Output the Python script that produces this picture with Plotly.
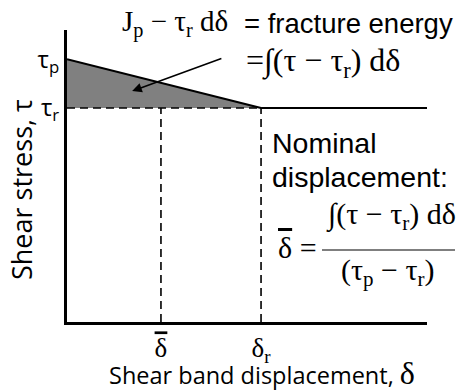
import plotly.graph_objects as go

# Key values (arbitrary units on a 0-10 plot frame)
tau_p = 9.0
tau_r = 7.33
delta_r = 5.39
delta_bar = 2.61
x_end = 10.0

y_tick_vals = [tau_p, tau_r]
y_tick_text = ["τ<sub>p</sub>", "τ<sub>r</sub>"]
x_tick_vals = [delta_bar, delta_r]
x_tick_text = ["<span style='text-decoration:overline'>δ</span>", "δ<sub>r</sub>"]

SERIF = "Liberation Serif"
SANS = "Liberation Sans"
CAL = "Open Sans"

fig = go.Figure()
fig.add_trace(go.Scatter(x=[0, delta_r], y=[tau_r, tau_r], mode="lines",
                         line=dict(color="black", width=1.6, dash="8px,5px"),
                         showlegend=False, hoverinfo="skip"))
fig.add_trace(go.Scatter(x=[0, delta_r], y=[tau_p, tau_r], mode="lines",
                         line=dict(color="black", width=2),
                         fill="tonexty", fillcolor="rgb(128,128,128)",
                         showlegend=False, hoverinfo="skip"))
fig.add_trace(go.Scatter(x=[delta_r, x_end], y=[tau_r, tau_r], mode="lines",
                         line=dict(color="black", width=2),
                         showlegend=False, hoverinfo="skip"))
for xv in [delta_bar, delta_r]:
    fig.add_trace(go.Scatter(x=[xv, xv], y=[0, tau_r], mode="lines",
                             line=dict(color="black", width=1.6, dash="8px,5px"),
                             showlegend=False, hoverinfo="skip"))


def px(xp):
    return (xp - 67) / 360


def py(yp):
    return (322 - yp) / 292


def txt(x, y, text, size, family, xanchor="left", angle=0):
    return dict(x=x, y=y, xref="paper", yref="paper", xanchor=xanchor, yanchor="middle",
                showarrow=False, text=text, textangle=angle,
                font=dict(size=size, color="black", family=family))


ann = []
ann.append(dict(x=1.81, y=7.91, ax=4.33, ay=9.04, xref="x", yref="y", axref="x", ayref="y",
                showarrow=True, arrowhead=2, arrowsize=1.2, arrowwidth=1.6, arrowcolor="black", text=""))
ann.append(txt(px(120), py(24), "J<sub>p</sub>\u00a0−\u00a0τ<sub>r</sub>\u00a0dδ", 29, SERIF))
ann.append(txt(px(242), py(24), "= fracture energy", 27.5, SANS))
ann.append(txt(px(244), py(62), "=∫(τ − τ<sub>r</sub>) dδ", 32, SERIF))
ann.append(txt(px(270), py(143), "Nominal", 28.5, SANS))
ann.append(txt(px(270), py(177), "displacement:", 28.5, SANS))
ann.append(txt(px(276), py(247), "<span style='text-decoration:overline'>δ</span>\u00a0=", 30, SERIF))
ann.append(txt(px(391), py(216), "∫(τ − τ<sub>r</sub>) dδ", 30, SERIF, "center"))
ann.append(txt(px(388), py(272), "(τ<sub>p</sub> − τ<sub>r</sub>)", 30, SERIF, "center"))
ann.append(txt(px(262), py(373),
               "Shear band displacement, <span style='font-family:%s;font-size:32px'>δ</span>" % SERIF,
               23.5, CAL, "center"))
ann.append(txt(px(21), py(190), "Shear stress, τ", 27, CAL, "center", -90))

shapes = [dict(type="line", xref="paper", yref="paper", x0=px(322), x1=px(455),
               y0=py(250), y1=py(250), line=dict(color="black", width=1.2))]

fig.update_layout(
    width=462, height=391,
    margin=dict(l=67, r=35, t=30, b=69),
    paper_bgcolor="white", plot_bgcolor="white",
    annotations=ann, shapes=shapes,
    xaxis=dict(range=[0, x_end], showgrid=False, zeroline=False, showline=True, linecolor="black",
               linewidth=3, tickvals=x_tick_vals, ticktext=x_tick_text, ticks="",
               tickfont=dict(family=SERIF, size=27, color="black"), fixedrange=True),
    yaxis=dict(range=[0, 10], showgrid=False, zeroline=False, showline=True, linecolor="black",
               linewidth=3, tickvals=y_tick_vals, ticktext=y_tick_text, ticks="",
               tickfont=dict(family=CAL, size=24, color="black"), fixedrange=True),
)

fig.write_html("out.html")
